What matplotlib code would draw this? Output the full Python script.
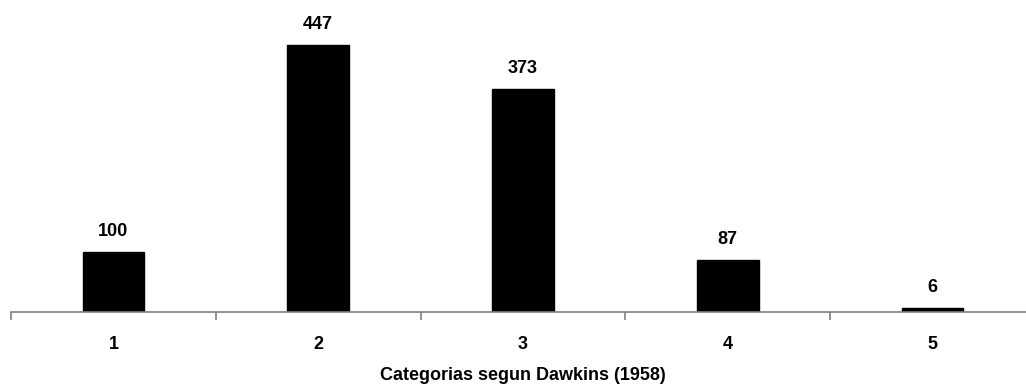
import numpy as np
from matplotlib import pyplot as plt

plt.rcParams['font.family'] = ['Liberation Sans', 'DejaVu Sans']

categories = ['1', '2', '3', '4', '5']
counts = [100, 447, 373, 87, 6]
xlabel = 'Categorias segun Dawkins (1958)'

fig = plt.figure(figsize=(10.26, 3.87), dpi=100)
# the axis runs past the right edge of the picture, as in the original
ax = fig.add_axes([11/1026, 1-312/387, 1024/1026, 298.5/387])

x = np.arange(1, len(categories)+1)
ax.bar(x, counts, width=0.30, color='black', edgecolor='black')
for xi, c in zip(x, counts):
    ax.annotate(str(c), (xi, c), xytext=(0, 9), textcoords='offset points',
                ha='center', va='bottom', fontsize=13, fontweight='bold')

ax.set_xlim(0.5, 5.5)
ax.set_ylim(0, 500)
for s in ['top', 'right', 'left']:
    ax.spines[s].set_visible(False)
ax.spines['bottom'].set_color('#808080')
ax.spines['bottom'].set_linewidth(1.2)
ax.set_yticks([])

ax.set_xticks(x)
ax.set_xticklabels(categories, fontsize=13, fontweight='bold')
ax.tick_params(axis='x', which='major', length=0, pad=17.5)
ax.set_xticks(np.arange(0.5, 6.0, 1.0), minor=True)
ax.tick_params(axis='x', which='minor', length=6, color='#808080', width=1.2)

ax.set_xlabel(xlabel, fontsize=13, fontweight='bold', labelpad=10)

plt.savefig('out.png', dpi=100)
